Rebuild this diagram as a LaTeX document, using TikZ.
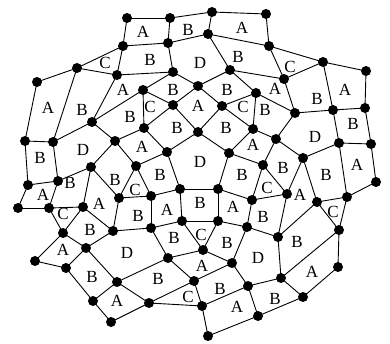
\documentclass[tikz,border=0pt]{standalone}
\usepackage{fontspec}
\setmainfont{Liberation Serif}
\begin{document}
\begin{tikzpicture}[x=1pt,y=-1pt,
  vtx/.style={circle,fill=black,inner sep=0pt,minimum size=10pt},
  edge/.style={line width=0.9pt},
  lab/.style={font=\fontsize{17}{17}\selectfont,inner sep=0pt}]
\useasboundingbox (0,0) rectangle (390,344);
\foreach \n/\x/\y in {
1/127/18,2/170/18,3/212/12,4/266/14,5/123/46,6/168/43,7/208/34,8/269/46,
9/77/68,10/117/75,11/173/72,12/230/70,13/284/79,14/323/62,15/366/71,16/37/82,
17/143/90,18/198/86,19/256/93,20/173/105,21/222/106,22/295/113,23/333/110,24/365/108,
25/92/122,26/144/128,27/198/132,28/253/129,29/25/141,30/53/142,31/115/141,32/167/152,
33/229/153,34/276/139,35/339/143,36/371/144,37/303/158,38/91/167,39/136/166,40/263/165,
41/28/185,42/58/181,43/376/182,44/180/189,45/218/189,46/151/196,47/252/200,48/287/194,
49/317/202,50/347/197,51/119/198,52/83/207,53/49/208,54/18/208,55/182/221,56/218/221,
57/151/228,58/113/231,59/63/233,60/247/227,61/278/237,62/339/230,63/203/250,64/86/248,
65/168/258,66/232/263,67/35/261,68/66/268,69/338/267,70/117/282,71/194/281,72/281/278,
73/248/286,74/303/297,75/93/301,76/149/303,77/202/306,78/258/316,79/111/322,80/208/336}
  \coordinate (v\n) at (\x,\y);
\foreach \a/\b in {1/2,2/3,3/4,1/5,2/6,3/7,4/8,5/6,6/7,7/8,
5/9,5/10,9/10,9/16,9/30,16/29,
6/11,10/11,11/18,18/12,7/12,12/13,8/13,8/14,13/14,14/15,15/24,14/23,23/24,13/22,22/23,
10/25,11/17,17/25,17/20,17/26,20/26,18/20,18/21,21/27,20/27,
12/19,19/21,19/22,19/28,21/28,
25/30,25/31,26/31,26/32,27/32,27/33,28/33,28/34,22/34,
29/30,29/41,30/42,31/38,38/42,31/39,32/39,32/44,33/45,44/45,33/40,34/40,34/37,
23/35,35/37,24/36,35/36,36/43,35/50,43/50,
41/42,41/54,42/53,53/54,38/52,52/53,38/51,39/51,39/46,46/51,44/46,
45/47,40/47,40/48,47/48,37/48,37/49,49/50,
46/57,44/55,55/56,45/56,56/60,47/60,55/57,
51/58,52/58,52/59,53/59,57/58,
48/61,49/61,60/61,49/62,50/62,
55/63,56/63,57/65,63/65,63/66,60/66,
58/64,59/64,59/67,64/68,67/68,64/70,65/70,
61/72,62/72,62/69,66/73,72/73,65/71,66/71,71/77,73/77,
68/75,70/75,70/76,71/76,76/77,75/79,76/79,
72/74,69/74,73/78,74/78,77/80,78/80}
  \draw[edge] (v\a) -- (v\b);
\foreach \n in {1,...,80}
  \node[vtx] (n\n) at (v\n) {};
\foreach \t/\x/\y [count=\i] in {
A/143/32,B/188/30,A/242/28,
C/105/63,B/150/60,D/200/63,B/238/57,C/290/67,
A/48/108,B/82/110,A/123/90,B/173/90,A/198/106,B/227/90,A/275/89,B/317/99,A/345/90,
C/150/107,C/243/107,B/265/110,
B/130/117,D/83/150,B/177/128,B/226/128,D/315/137,B/353/124,
B/40/158,A/142/147,A/253/145,D/200/162,A/357/165,
B/70/183,B/115/180,B/160/175,B/242/175,B/283/168,B/326/175,
A/43/195,C/135/190,C/267/188,A/300/195,
A/99/204,B/138/216,A/167/210,B/200/203,A/233/207,B/263/217,C/333/212,
C/63/214,B/90/230,
D/127/253,B/174/238,C/201/235,B/227/243,D/258/258,B/297/242,
A/63/250,B/92/277,A/202/266,A/312/272,
B/158/279,B/220/289,B/275/299,
A/117/301,C/188/297,A/237/307}
  \node[lab] (l\i) at (\x,\y) {\t};
\end{tikzpicture}
\end{document}
